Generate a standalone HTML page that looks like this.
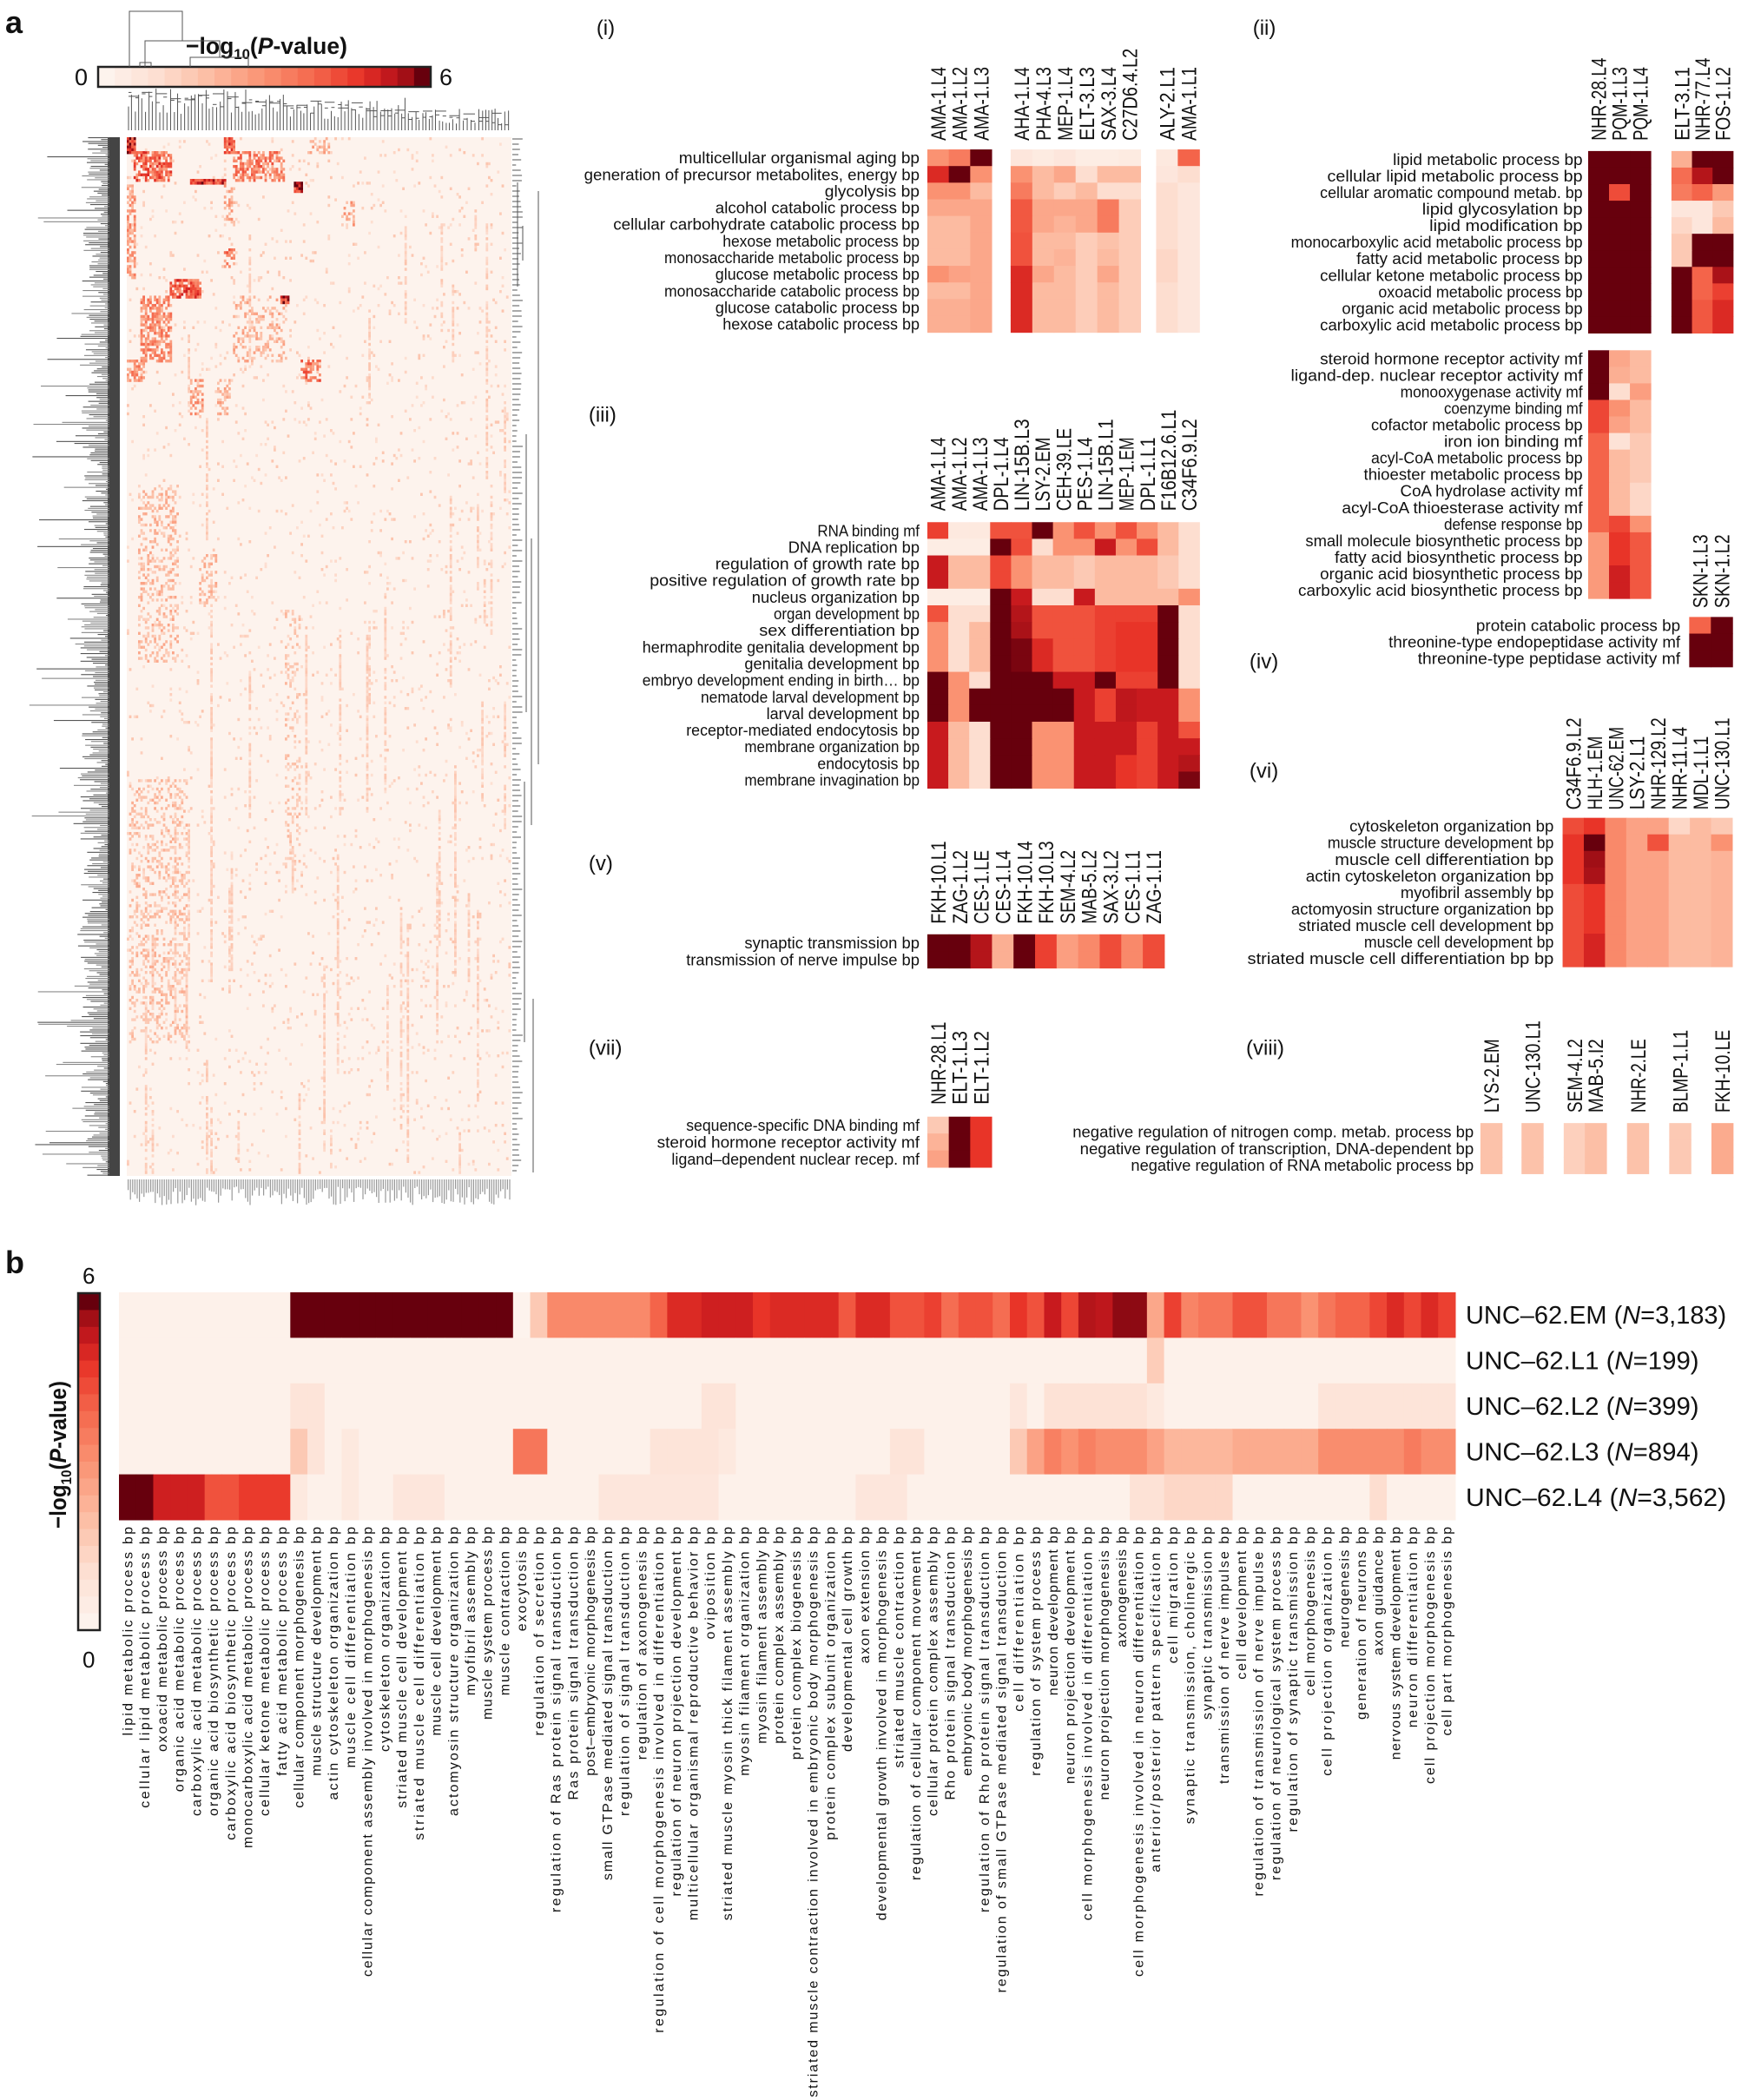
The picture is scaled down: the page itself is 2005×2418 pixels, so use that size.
<!DOCTYPE html>
<html><head><meta charset="utf-8"><style>
html,body{margin:0;padding:0;background:#fff;overflow:hidden}
svg{display:block}
text{font-family:"Liberation Sans",sans-serif;fill:#111}
</style></head><body>
<svg id="s" xmlns="http://www.w3.org/2000/svg" width="2005" height="2418" viewBox="0 0 2005 2418">
<rect width="2005" height="2418" fill="#fff"/>
</svg>
<script>
const S=document.getElementById('s');const NS='http://www.w3.org/2000/svg';
function el(t,a,txt,p){const e=document.createElementNS(NS,t);for(const k in a)e.setAttribute(k,a[k]);if(txt!=null)e.textContent=txt;(p||S).appendChild(e);return e;}
const stops=[[0,[253,243,237]],[1,[253,222,208]],[2,[252,187,161]],[3,[250,146,114]],[4,[244,100,74]],[4.8,[232,52,40]],[5.3,[200,26,30]],[5.7,[160,15,22]],[6,[103,0,13]]];
function col(v){v=Math.max(0,Math.min(6,v));for(let i=1;i<stops.length;i++){if(v<=stops[i][0]){const a=stops[i-1],b=stops[i];const t=(v-a[0])/(b[0]-a[0]);const c=a[1].map((x,j)=>Math.round(x+(b[1][j]-x)*t));return `rgb(${c})`;}}return 'rgb(103,0,13)';}
const FX=1.279,FY=0.925;
const X=x=>x*FX,Y=y=>y*FY;
function heat(x0,y0,cw,rh,data){data.forEach((r,i)=>r.forEach((v,j)=>el('rect',{x:x0+j*cw,y:y0+i*rh,width:cw+0.5,height:rh+0.5,fill:col(v)})));}
function heatZ(x0,y0,cw,rh,data){heat(X(x0),Y(y0),cw*FX,rh*FY,data);}
function rlabZ(xr,y0,rh,labels){const fs=18,cpc=8.4;labels.forEach((l,i)=>{el('text',{x:X(xr),y:Y(y0+i*rh+rh/2)+fs*0.36,'text-anchor':'end','font-size':fs,textLength:l.length*cpc,lengthAdjust:'spacingAndGlyphs'},l);});}
function clabZ(xs,yb,labels){const fs=24,cpc=10.6;labels.forEach((l,i)=>{el('text',{transform:`translate(${X(xs[i])+fs*0.36},${Y(yb)}) rotate(-90)`,'font-size':fs,textLength:l.length*cpc,lengthAdjust:'spacingAndGlyphs'},l);});}
function xsFrom(x0,cw,n){const a=[];for(let i=0;i<n;i++)a.push(x0+cw*(i+0.5));return a;}
function txt(x,y,s,fs,extra){const a={x:x,y:y,'font-size':fs};Object.assign(a,extra||{});return el('text',a,s);}
function plab(x,y,s){txt(X(x),Y(y),s,24);}

// ---------- Panel a overview (orig px) ----------
txt(6,38,'a',36,{'font-weight':'bold'});
for(let i=0;i<20;i++)el('rect',{x:113+i*19.15,y:77,width:19.6,height:23,fill:col(i*6/19)});
el('rect',{x:113,y:77,width:383,height:23,fill:'none',stroke:'#222','stroke-width':2.5});
txt(86,98,'0',27);txt(506,98,'6',27);
const t=txt(214,62,'',27,{'font-weight':'bold',textLength:186,lengthAdjust:'spacingAndGlyphs'});
el('tspan',{},'\u2212log',t);el('tspan',{'font-size':17,dy:6},'10',t);el('tspan',{dy:-6},'(',t);el('tspan',{'font-style':'italic'},'P',t);el('tspan',{},'-value)',t);
let seed=7;function rnd(){seed=(seed*16807)%2147483647;return seed/2147483647;}
const g=el('g',{stroke:'#555','stroke-width':1,fill:'none'});
el('path',{d:'M149,77 V13 H210 V47 M167,77 V47 H253 V66 M161,77 V72 H174 V77 M219,77 V66 H286 V77'},null,g);
{let x=148;const pts=[];while(x<587){pts.push(x);x+=3.4+rnd()*1.2;}
 pts.forEach((x,i)=>{const h=x<330?102+rnd()*30:x<470?112+rnd()*25:125+rnd()*18;el('line',{x1:x,y1:150,x2:x,y2:h},null,g);});
 for(let i=0;i<pts.length-1;i+=2){const y=104+(pts[i]-148)/440*30+rnd()*12;el('line',{x1:pts[i],y1:y,x2:pts[i+1],y2:y},null,g);}
 for(let i=0;i<pts.length-3;i+=4){const y=101+(pts[i]-148)/440*28+rnd()*10;el('line',{x1:pts[i],y1:y,x2:pts[i+3],y2:y},null,g);}}
// left labels texture
el('rect',{x:124,y:158,width:14,height:1196,fill:'#444'});
for(let y=158;y<1354;y+=2.2){const w=4+rnd()*(rnd()<0.15?90:30);el('rect',{x:126-w,y:y,width:w,height:1.1,fill:rnd()<0.5?'#555':'#888'});}
for(let x=147;x<588;x+=2.6){const h=8+rnd()*22;el('rect',{x:x,y:1358,width:1.2,height:h,fill:'#999'});}
// heatmap
const HX=146,HY=158,HW=443,HH=1196;
el('rect',{x:HX,y:HY,width:HW,height:HH,fill:'rgb(253,243,237)'});
const cw=2.6,rh=3.2;const NC=Math.floor(HW/cw),NR=Math.floor(HH/rh);
const cl=[
 [146,156,158,176,1,6],[259,269,158,176,0.8,5],[354,380,158,176,0.4,2.6],[156,198,177,209,0.7,4.6],[269,326,177,207,0.6,4],[221,259,207,211,1,5.6],[340,348,212,220,1,6],
 [146,156,214,320,0.6,3.3],[395,407,233,258,0.4,3],[259,269,287,306,0.6,4],[259,269,214,260,0.4,3],
 [196,231,322,341,0.8,4.8],[324,332,341,348,1,6],[164,196,341,415,0.6,3.6],[269,330,341,415,0.3,2.6],
 [146,166,415,437,0.6,3.6],[348,368,415,437,0.7,4.2],[221,233,437,478,0.5,3.2],[250,265,437,478,0.4,2.6],
 [160,205,560,760,0.3,2.4],[230,250,640,700,0.3,2.4],[146,600,158,1354,0.035,1.6],[150,215,900,1200,0.25,2.2],[330,345,700,1000,0.2,2]
];
const grid={};
cl.forEach(c=>{for(let i=Math.floor((c[0]-HX)/cw);i<Math.min(NC,Math.ceil((c[1]-HX)/cw));i++)for(let j=Math.floor((c[2]-HY)/rh);j<Math.min(NR,Math.ceil((c[3]-HY)/rh));j++){if(rnd()<c[4]){const v=c[5]*(0.55+rnd()*0.55);const k=i+','+j;if(!grid[k]||grid[k]<v)grid[k]=v;}}});
for(let s=0;s<50;s++){const i=Math.floor(rnd()*NC);const j0=Math.floor(rnd()*NR);const L=15+Math.floor(rnd()*80);for(let j=j0;j<Math.min(NR,j0+L);j++){if(rnd()<0.7){const k=i+','+j;if(!grid[k])grid[k]=1+rnd()*0.8;}}}
for(const k in grid){const [i,j]=k.split(',').map(Number);el('rect',{x:HX+i*cw,y:HY+j*rh,width:cw+0.2,height:rh+0.2,fill:col(grid[k])});}
{const g2=el('g',{stroke:'#555','stroke-width':1,fill:'none'});for(let y=160;y<1352;y+=6){el('line',{x1:590,y1:y,x2:594+rnd()*8,y2:y},null,g2);}
el('path',{d:'M596,210 V330 M602,260 V300 M606,500 V820 M612,620 V950 M620,220 V880 M604,900 V1200 M614,1150 V1350'},null,g2);}

// ---------- (i) ----------
plab(537,43,'(i)');
el('clipPath',{id:'cI'});el('rect',{x:X(515),y:0,width:X(320),height:500},null,S.lastChild);
{const fs=18,cpc=8.4;const gI=el('g',{'clip-path':'url(#cI)'});
['multicellular organismal aging bp','generation of precursor metabolites, energy bp','glycolysis bp','alcohol catabolic process bp','cellular carbohydrate catabolic process bp','hexose metabolic process bp','monosaccharide metabolic process bp','glucose metabolic process bp','monosaccharide catabolic process bp','glucose catabolic process bp','hexose catabolic process bp'].forEach((l,i)=>{el('text',{x:X(828),y:Y(186+i*20.7+10.35)+fs*0.36,'text-anchor':'end','font-size':fs,textLength:l.length*cpc,lengthAdjust:'spacingAndGlyphs'},l,gI);});}
heatZ(835,186,19.3,20.7,[[3,3.5,6],[5,6,3],[3,3,2],[2.5,2.5,2.5],[2,2,2.5],[2,2,2.5],[2,2,2.5],[3,2.6,2.5],[2,2,2.5],[2.3,2.3,2.5],[2.3,2.3,2.5]]);
heatZ(910,186,19.5,20.7,[[0.6,0.4,0.6,0.3,0.3,0.4],[3,2,2.5,1,2,2],[3.5,2,1.5,2,1,1],[4.2,2.5,2.5,2.5,3.5,1.5],[4.2,2.5,2.2,2.5,3.5,1.5],[4.3,2,2,1.5,1.8,1.5],[4.3,2,2.2,1.5,2,1.5],[5,2.5,2,1.5,2.5,1.5],[5,2,2,1.5,2,1.5],[5,2,2,1.5,2,1.5],[5,2,2,1.5,2,1.5]]);
heatZ(1041,186,19.5,20.7,[[0.5,4],[0.6,1],[1,0.6],[1,0.6],[1,0.6],[1,0.6],[1.2,0.6],[1.2,0.6],[1,0.6],[1,0.6],[1,0.6]]);
clabZ(xsFrom(835,19.3,3),175,['AMA-1.L4','AMA-1.L2','AMA-1.L3']);
clabZ(xsFrom(910,19.5,6),175,['AHA-1.L4','PHA-4.L3','MEP-1.L4','ELT-3.L3','SAX-3.L4','C27D6.4.L2']);
clabZ(xsFrom(1041,19.5,2),175,['ALY-2.L1','AMA-1.L1']);

// ---------- (ii) ----------
plab(1128,43,'(ii)');
rlabZ(1425,188,20.6,['lipid metabolic process bp','cellular lipid metabolic process bp','cellular aromatic compound metab. bp','lipid glycosylation bp','lipid modification bp','monocarboxylic acid metabolic process bp','fatty acid metabolic process bp','cellular ketone metabolic process bp','oxoacid metabolic process bp','organic acid metabolic process bp','carboxylic acid metabolic process bp']);
{const d=[];for(let i=0;i<11;i++)d.push([6,i==2?4.4:6,6]);heatZ(1430,188,18.8,20.6,d);}
heatZ(1505,188,18.5,20.6,[[2.3,6,6],[3.8,5.5,6],[3.5,4,2.8],[0.6,0.6,1.6],[1.2,0.6,2],[1.6,6,6],[1.6,6,6],[6,4,5.6],[6,4,4.6],[6,4.2,5],[6,4.2,5]]);
clabZ(xsFrom(1430,18.8,3),175,['NHR-28.L4','PQM-1.L3','PQM-1.L4']);
clabZ(xsFrom(1505,18.5,3),175,['ELT-3.L1','NHR-77.L4','FOS-1.L2']);
rlabZ(1425,436,20.6,['steroid hormone receptor activity mf','ligand-dep. nuclear receptor activity mf','monooxygenase activity mf','coenzyme binding mf','cofactor metabolic process bp','iron ion binding mf','acyl-CoA metabolic process bp','thioester metabolic process bp','CoA hydrolase activity mf','acyl-CoA thioesterase activity mf','defense response bp','small molecule biosynthetic process bp','fatty acid biosynthetic process bp','organic acid biosynthetic process bp','carboxylic acid biosynthetic process bp']);
heatZ(1430,436,18.8,20.6,[[6,2.5,2],[6,2.3,2],[6,1,2.7],[4.5,3,2],[4.5,2.6,2],[4,0.8,1.6],[4,2,1.6],[4,2,1.6],[4,2,1.2],[4,2,1.2],[4,4.5,3],[2.8,4.8,4.2],[2.8,4.8,4.2],[2.8,5.2,4.2],[2.8,5.2,4.2]]);
plab(1125,832,'(iv)');
clabZ(xsFrom(1521,19.5,2),757,['SKN-1.L3','SKN-1.L2']);
rlabZ(1513,768,20.7,['protein catabolic process bp','threonine-type endopeptidase activity mf','threonine-type peptidase activity mf']);
heatZ(1521,768,19.5,20.7,[[4,6],[6,6],[6,6]]);

// ---------- (iii) ----------
plab(530,525,'(iii)');
clabZ(xsFrom(835,18.85,13),636,['AMA-1.L4','AMA-1.L2','AMA-1.L3','DPL-1.L4','LIN-15B.L3','LSY-2.EM','CEH-39.LE','PES-1.L4','LIN-15B.L1','MEP-1.EM','DPL-1.L1','F16B12.6.L1','C34F6.9.L2']);
rlabZ(828,650,20.7,['RNA binding mf','DNA replication bp','regulation of growth rate bp','positive regulation of growth rate bp','nucleus organization bp','organ development bp','sex differentiation bp','hermaphrodite genitalia development bp','genitalia development bp','embryo development ending in birth\u2026 bp','nematode larval development bp','larval development bp','receptor-mediated endocytosis bp','membrane organization bp','endocytosis bp','membrane invagination bp']);
heatZ(835,650,18.85,20.7,[
[4.6,0.5,0.5,4.3,4.3,6,3,4.3,3,4.3,3,2,1],
[0.3,0.3,0.3,6,4.4,1,3,3,5.3,3,4.4,2,1],
[5.3,2,2,4.5,3,2,2,1.6,2,2,2,1.6,1],
[5.3,2,2,4.5,3,2,2,1.6,2,2,2,1.6,1],
[0.3,0.3,0.3,6,5.3,1,1,5.3,2,2,2,2,3],
[4.3,1,1,6,5.5,4.3,4.3,4.3,4.6,4.6,4.6,6,1],
[3,1,2,6,5.6,4.3,4.3,4.3,4.6,4.8,4.8,6,1],
[3,1,2,6,5.9,5,4.3,4.3,4.6,4.8,4.8,6,1],
[3,1,2,6,5.9,5,4.3,4.3,4.6,4.8,4.8,6,1],
[6,3,1,6,6,6,5.3,5.3,6,4.6,4.6,6,1],
[6,3,6,6,6,6,6,5.3,4.6,5.4,5.3,5.3,3],
[6,3,6,6,6,6,6,5.3,4.6,5.4,5.3,5.3,3],
[5.3,2,1,6,6,3,3,5.3,5.3,5.3,4.6,5.3,4.3],
[5.3,2,1,6,6,3,3,5.3,5.3,5.3,4.6,5.3,5.3],
[5.3,2,1,6,6,3,3,5.3,5.3,4.8,4.6,5.3,5.5],
[5.3,2,1,6,6,3,3,5.3,5.3,4.8,4.6,5.3,5.9]]);

// ---------- (v) ----------
plab(530,1083,'(v)');
clabZ(xsFrom(835,19.4,11),1150,['FKH-10.L1','ZAG-1.L2','CES-1.LE','CES-1.L4','FKH-10.L4','FKH-10.L3','SEM-4.L2','MAB-5.L2','SAX-3.L2','CES-1.L1','ZAG-1.L1']);
rlabZ(828,1163,21,['synaptic transmission bp','transmission of nerve impulse bp']);
{const rv=[6,6,5.5,2.3,6,4.6,2.7,3.2,4.4,3.2,4.4];heatZ(835,1163,19.4,21,[rv,rv]);}

// ---------- (vi) ----------
plab(1125,968,'(vi)');
clabZ(xsFrom(1407,19.1,8),1008,['C34F6.9.L2','HLH-1.EM','UNC-62.EM','LSY-2.L1','NHR-129.L2','NHR-11.L4','MDL-1.L1','UNC-130.L1']);
rlabZ(1399,1018,20.6,['cytoskeleton organization bp','muscle structure development bp','muscle cell differentiation bp','actin cytoskeleton organization bp','myofibril assembly bp','actomyosin structure organization bp','striated muscle cell development bp','muscle cell development bp','striated muscle cell differentiation bp bp']);
heatZ(1407,1018,19.1,20.6,[[4.4,4.8,3.2,2.6,2.6,1.2,2,1.6],[4.8,6,3.2,2.6,4.3,2,2,3],[4.8,5.7,3.2,2.6,2.6,2,2,2.2],[4.8,5.6,3.2,2.6,2.6,2,2,2.2],[4.4,4.8,3.2,2.6,2.6,2,2,2.2],[4.4,4.8,3.2,2.6,2.6,2,2,2.2],[4.4,4.8,3.2,2.6,2.6,2,2,2.2],[4.4,5.1,3.2,2.6,2.6,2,2,2.2],[4.4,5.1,3.2,2.6,2.6,2,2,2.2]]);

// ---------- (vii) ----------
plab(530,1313,'(vii)');
clabZ(xsFrom(835,19.3,3),1375,['NHR-28.L1','ELT-1.L3','ELT-1.L2']);
rlabZ(828,1390,21,['sequence-specific DNA binding mf','steroid hormone receptor activity mf','ligand\u2013dependent nuclear recep. mf']);
heatZ(835,1390,19.3,21,[[1.6,6,4.8],[2.2,6,4.8],[2.6,6,4.8]]);

// ---------- (viii) ----------
plab(1122,1313,'(viii)');
rlabZ(1327,1398,21,['negative regulation of nitrogen comp. metab. process bp','negative regulation of transcription, DNA-dependent bp','negative regulation of RNA metabolic process bp']);
[[1333,'LYS-2.EM',1.8],[1370,'UNC-130.L1',1.8],[1408,'SEM-4.L2',1.4],[1427,'MAB-5.I2',1.9],[1465,'NHR-2.LE',1.8],[1503,'BLMP-1.L1',1.6],[1541,'FKH-10.LE',2.4]].forEach(c=>{heatZ(c[0],1398,19.5,21,[[c[2]],[c[2]],[c[2]]]);clabZ([c[0]+9.75],1385,[c[1]]);});

// ---------- Panel b (orig px) ----------
txt(6,1466,'b',36,{'font-weight':'bold'});
for(let i=0;i<20;i++)el('rect',{x:90,y:1489+i*19.4,width:25,height:20,fill:col(6-i*6/19)});
el('rect',{x:90,y:1489,width:25,height:388,fill:'none',stroke:'#222','stroke-width':2.5});
txt(95,1478,'6',26);txt(95,1920,'0',26);
{const tt=el('text',{transform:`translate(76,1760) rotate(-90)`,'font-size':27,'font-weight':'bold',textLength:170,lengthAdjust:'spacingAndGlyphs'});
el('tspan',{},'\u2212log',tt);el('tspan',{'font-size':17,dy:6},'10',tt);el('tspan',{dy:-6},'(',tt);el('tspan',{'font-style':'italic'},'P',tt);el('tspan',{},'-value)',tt);}
const bl=['lipid metabolic process bp','cellular lipid metabolic process bp','oxoacid metabolic process bp','organic acid metabolic process bp','carboxylic acid metabolic process bp','organic acid biosynthetic process bp','carboxylic acid biosynthetic process bp','monocarboxylic acid metabolic process bp','cellular ketone metabolic process bp','fatty acid metabolic process bp','cellular component morphogenesis bp','muscle structure development bp','actin cytoskeleton organization bp','muscle cell differentiation bp','cellular component assembly involved in morphogenesis bp','cytoskeleton organization bp','striated muscle cell development bp','striated muscle cell differentiation bp','muscle cell development bp','actomyosin structure organization bp','myofibril assembly bp','muscle system process bp','muscle contraction bp','exocytosis bp','regulation of secretion bp','regulation of Ras protein signal transduction bp','Ras protein signal transduction bp','post\u2013embryonic morphogenesis bp','small GTPase mediated signal transduction bp','regulation of signal transduction bp','regulation of axonogenesis bp','regulation of cell morphogenesis involved in differentiation bp','regulation of neuron projection development bp','multicellular organismal reproductive behavior bp','oviposition bp','striated muscle myosin thick filament assembly bp','myosin filament organization bp','myosin filament assembly bp','protein complex assembly bp','protein complex biogenesis bp','striated muscle contraction involved in embryonic body morphogenesis bp','protein complex subunit organization bp','developmental cell growth bp','axon extension bp','developmental growth involved in morphogenesis bp','striated muscle contraction bp','regulation of cellular component movement bp','cellular protein complex assembly bp','Rho protein signal transduction bp','embryonic body morphogenesis bp','regulation of Rho protein signal transduction bp','regulation of small GTPase mediated signal transduction bp','cell differentiation bp','regulation of system process bp','neuron development bp','neuron projection development bp','cell morphogenesis involved in differentiation bp','neuron projection morphogenesis bp','axonogenesis bp','cell morphogenesis involved in neuron differentiation bp','anterior/posterior pattern specification bp','cell migration bp','synaptic transmission, cholinergic bp','synaptic transmission bp','transmission of nerve impulse bp','cell development bp','regulation of transmission of nerve impulse bp','regulation of neurological system process bp','regulation of synaptic transmission bp','cell morphogenesis bp','cell projection organization bp','neurogenesis bp','generation of neurons bp','axon guidance bp','nervous system development bp','neuron differentiation bp','cell projection morphogenesis bp','cell part morphogenesis bp'];
const N=78,BX=137,BW=1539/N,BY=1488,BRH=52.4;
function row(def,base){const r=new Array(N).fill(base);for(const k in def){const p=k.split('-').map(Number);const a=p[0],b=p.length>1?p[1]:p[0];for(let i=a;i<=b;i++)r[i-1]=def[k];}return r;}
const rEM=row({'1-10':0.1,'11-23':6,'24':0,'25':1.6,'26-31':3.2,'32':4,'33-34':5,'35-37':5.2,'38':4.8,'39-42':5,'43':4.2,'44-45':5,'46-47':4.3,'48':4.6,'49':3.8,'50-51':4.3,'52':3.8,'53':4.8,'54':4.3,'55':5.3,'56':4.5,'57':5.5,'58':5.4,'59-60':5.8,'61':2.5,'62':4.6,'63':3.3,'64-65':3.6,'66-67':4.3,'68-69':3.6,'70':3,'71':3.6,'72-73':4,'74':4.5,'75':5,'76':4.5,'77':5,'78':4.6},0.1);
const rL1=row({'61':1.5},0.1);
const rL2=row({'11-12':0.7,'35-36':0.7,'53':0.6,'55-60':0.8,'61':0.5,'71-78':0.7},0.1);
const rL3=row({'11':1.6,'12':0.7,'14':0.5,'24-25':3.6,'32-35':0.7,'36':0.5,'46-47':0.7,'53':1.6,'54':2.6,'55':3.4,'56':3,'57':3.4,'58-60':3.1,'61':2.6,'62-65':2.1,'66-70':2.4,'71-75':3.1,'76':3.5,'77-78':3.1},0.1);
const rL4=row({'1-2':6,'3-5':5.2,'6-7':4.3,'8-10':4.7,'11':0.5,'14':0.5,'17-19':0.6,'29-35':0.6,'44-46':0.6,'60-61':0.8,'62-65':1.2,'74':1},0.1);
heat(BX,BY,BW,BRH,[rEM,rL1,rL2,rL3,rL4]);
bl.forEach((l,i)=>{el('text',{transform:`translate(${BX+BW*(i+0.5)+5.5},1758) rotate(-90)`,'text-anchor':'end','font-size':16,textLength:l.length*9.25,lengthAdjust:'spacing'},l);});
[['EM','3,183'],['L1','199'],['L2','399'],['L3','894'],['L4','3,562']].forEach((r,i)=>{const s='UNC\u201362.'+r[0]+' (N='+r[1]+')';const tt=el('text',{x:1688,y:BY+BRH*(i+0.5)+10,'font-size':29,textLength:s.length*15.8,lengthAdjust:'spacingAndGlyphs'});el('tspan',{},'UNC\u201362.'+r[0]+' (',tt);el('tspan',{'font-style':'italic'},'N',tt);el('tspan',{},'='+r[1]+')',tt);});
</script>
</body></html>
